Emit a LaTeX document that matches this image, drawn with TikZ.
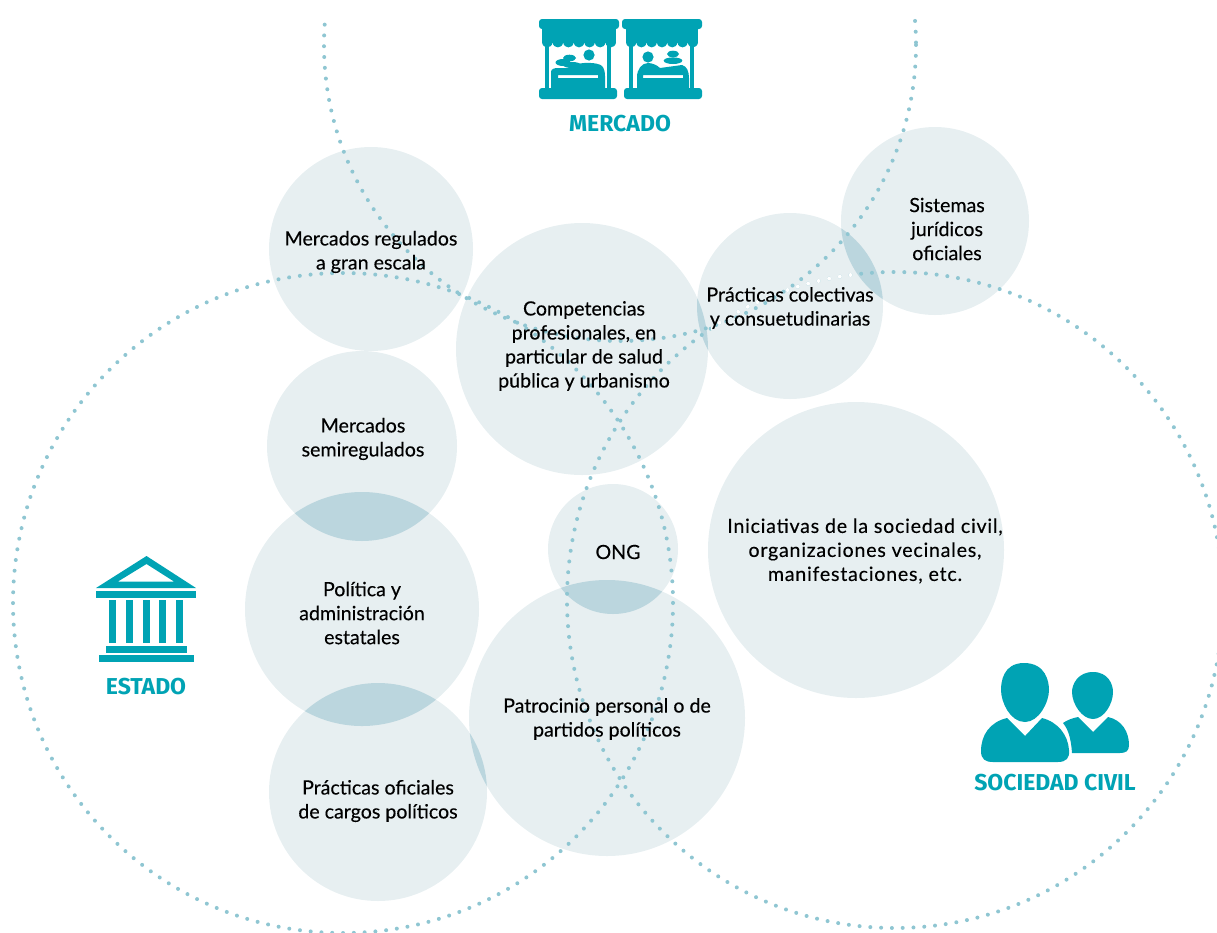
\documentclass[tikz,border=0pt]{standalone}
\usepackage{fontspec}
\setmainfont{Lato}[FakeBold=0.25]
\newfontfamily\lab{Fira Sans}
\definecolor{teal1}{HTML}{00A3B4}
\definecolor{pale}{HTML}{E7EFF1}
\definecolor{over}{HTML}{BBD6DE}
\definecolor{dotc}{HTML}{8FC6D2}
\tikzset{
 bub/.style={fill=pale,draw=none},
 ring/.style={draw=dotc,line width=4pt,line cap=round,dash pattern=on 0pt off 10.8pt},
 txt/.style={align=center,font=\fontsize{19.6}{24}\selectfont,text=black,inner sep=0pt},
 captxt/.style={font=\lab\bfseries\fontsize{23}{24}\selectfont,text=teal1,inner sep=0pt},
 ic/.style={fill=teal1,draw=none}
}
\newcommand{\ovl}[6]{\begin{scope}\clip (#1,#2) circle[radius=#3];\fill[over] (#4,#5) circle[radius=#6];\end{scope}}
\begin{document}
\begin{tikzpicture}[x=1pt,y=-1pt]
\useasboundingbox (0,0) rectangle (1217,932);
\clip (0,0) rectangle (1217,932);
% bubbles
\fill[bub] (371,249) circle[radius=102];
\fill[bub] (362,446) circle[radius=95];
\fill[bub] (362,609) circle[radius=117];
\fill[bub] (378,792) circle[radius=109];
\fill[bub] (582,349) circle[radius=126];
\fill[bub] (790,306) circle[radius=93];
\fill[bub] (935,221) circle[radius=94];
\fill[bub] (613,549) circle[radius=65];
\fill[bub] (607,718) circle[radius=138];
\fill[bub] (856,550) circle[radius=148];
\ovl{362}{446}{95}{362}{609}{117}
\ovl{362}{609}{117}{378}{792}{109}
\ovl{378}{792}{109}{607}{718}{138}
\ovl{613}{549}{65}{607}{718}{138}
\ovl{582}{349}{126}{790}{306}{93}
\ovl{790}{306}{93}{935}{221}{94}
% rings
\begin{scope}
\clip (0,18) rectangle (1217,932);
\draw[ring] (620,45) circle[radius=296];
\end{scope}
\draw[ring] (343,603) circle[radius=330];
\draw[ring] (895,600) circle[radius=328];
\begin{scope}
\clip (711,260) rectangle (856,345);
\draw[ring,draw=white] (895,600) circle[radius=328];
\end{scope}
% text
\node[txt] (t1) at (371,252) {Mercados regulados\\a gran escala};
\node[txt] (t2) at (363,439) {Mercados\\semiregulados};
\node[txt] (t3) at (362,613) {Política y\\administración\\estatales};
\node[txt] (t4) at (378,801) {Prácticas oficiales\\de cargos políticos};
\node[txt] (t5) at (584,346) {Competencias\\profesionales, en\\particular de salud\\pública y urbanismo};
\node[txt] (t6) at (790,308) {Prácticas colectivas\\y consuetudinarias};
\node[txt] (t7) at (947,229) {Sistemas\\jurídicos\\oficiales};
\node[txt] (t8) at (618,552) {ONG};
\node[txt] (t9) at (607,719) {Patrocinio personal o de\\partidos políticos};
\node[txt,font=\fontsize{19.6}{24}\addfontfeature{LetterSpace=4}\selectfont] (t10) at (865,551) {Iniciativas de la sociedad civil,\\organizaciones vecinales,\\manifestaciones, etc.};
% captions
\node[captxt] (c1) at (620,124) {MERCADO};
\node[captxt] (c2) at (146,687) {ESTADO};
\node[captxt] (c3) at (1055,783) {SOCIEDAD CIVIL};
% temple
\fill[ic,even odd rule] (146.5,556) -- (196,588) -- (96,588) -- cycle (146.5,564) -- (118,581.5) -- (174,581.5) -- cycle;
\fill[ic] (96,591) rectangle (196,598);
\foreach \x in {109,126,143,159,176}{\fill[ic] (\x,600) rectangle (\x+7,643);}
\fill[ic] (106,646) rectangle (187,653);
\fill[ic] (99,655) rectangle (194,662);
% people
\fill[ic] (1024,663) .. controls (1003,663) and (1001,682) .. (1001,690) .. controls (1001,702) and (1010,722) .. (1025,722) .. controls (1039,722) and (1049,702) .. (1049,690) .. controls (1049,682) and (1046,663) .. (1024,663) -- cycle;
\fill[ic] (1025,736) -- (1007,718) .. controls (990,722) and (981,735) .. (981,751) .. controls (981,759) and (985,762) .. (993,762) -- (1058,762) .. controls (1066,762) and (1070,758) .. (1069,750) .. controls (1068,735) and (1058,722) .. (1042,718) -- cycle;
\fill[ic] (1093,672) .. controls (1078,672) and (1072,684) .. (1072,692) .. controls (1072,704) and (1082,719) .. (1093,719) .. controls (1104,719) and (1113,704) .. (1113,692) .. controls (1113,684) and (1108,672) .. (1093,672) -- cycle;
\fill[ic] (1063,723) .. controls (1067,720) and (1073,718) .. (1078,717) -- (1093,732) -- (1108,717) .. controls (1122,720) and (1129,732) .. (1129,745) .. controls (1129,751) and (1126,753) .. (1120,753) -- (1072,753) .. controls (1071,738) and (1068,729) .. (1063,723) -- cycle;
% market stalls
\foreach \l/\r/\al/\ar/\pa/\pb/\bl/\br in {539/619/542/616/545/607/539/617,622/702/626/698/629/690/624/702}{
 \fill[ic,rounded corners=3pt] (\l,19) rectangle (\r,29);
 \fill[ic] (\al,27) rectangle (\ar,43);
 \foreach \k in {0,...,6}{
  \pgfmathsetmacro{\wd}{(\ar-\al)/7}
  \pgfmathsetmacro{\xa}{\al+\k*\wd}
  \pgfmathsetmacro{\xb}{\xa+\wd}
  \fill[ic] (\xa,42.5) .. controls (\xa+1,49) and (\xb-1,49) .. (\xb,42.5) -- cycle;
 }
 \fill[ic] (\pa,41) rectangle (\pa+3.5,90);
 \fill[ic] (\pb,41) rectangle (\pb+3.5,90);
 \fill[ic,rounded corners=3pt] (\bl,88) rectangle (\br,99);
}
% left stall contents
\fill[ic,even odd rule] (551,90) -- (551,72) .. controls (551,69) and (554,68) .. (558,68) -- (572,68) -- (576,65) .. controls (580,62) and (598,62) .. (602,66) .. controls (604,68) and (605,72) .. (605,76) -- (605,90) -- cycle (558,75) rectangle (598,78);
\fill[ic] (589,55) circle[radius=5.6];
\fill[ic] (569.5,58) ellipse[x radius=6.5,y radius=3.3];
\fill[ic] (563,62.5) ellipse[x radius=7.5,y radius=3.5];
\fill[ic] (572,65) ellipse[x radius=9,y radius=3];
% right stall contents
\fill[ic,even odd rule] (637,90) -- (637,77) .. controls (637,69) and (642,63) .. (648,63) .. controls (652,63) and (657,65) .. (660,68) -- (682,65) .. controls (687,66) and (689,72) .. (689,78) -- (689,90) -- cycle (643,75) rectangle (683,78);
\fill[ic] (648,57) circle[radius=5.6];
\fill[ic] (673,54) ellipse[x radius=6,y radius=3.3];
\fill[ic] (673,60.7) ellipse[x radius=9.3,y radius=3.3];
\end{tikzpicture}
\end{document}
